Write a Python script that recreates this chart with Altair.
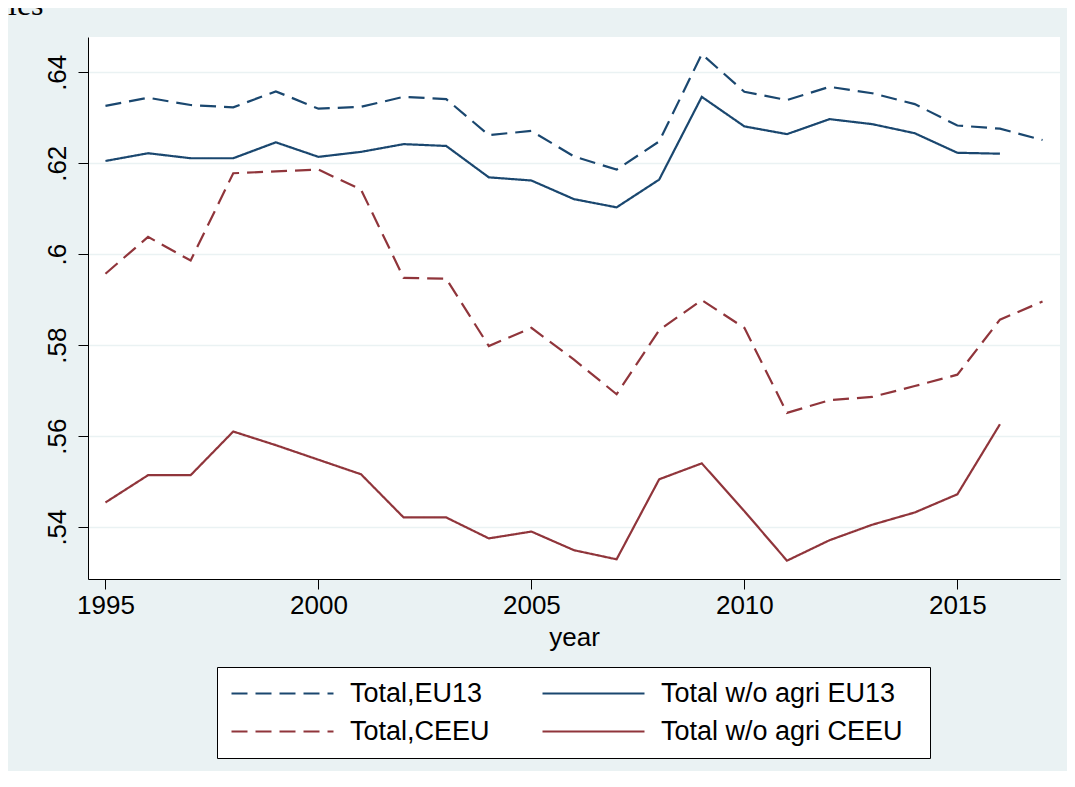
import altair as alt
import pandas as pd

years = list(range(1995, 2018))
total_eu13 = [0.6326, 0.6344, 0.6328, 0.6323, 0.6358, 0.6320, 0.6324, 0.6346, 0.6341, 0.6262,
              0.6271, 0.6215, 0.6186, 0.6248, 0.6440, 0.6357, 0.6339, 0.6368, 0.6354, 0.6330,
              0.6283, 0.6276, 0.6251]
woagri_eu13 = [0.6205, 0.6222, 0.6211, 0.6211, 0.6246, 0.6214, 0.6225, 0.6242, 0.6238, 0.6169,
               0.6162, 0.6121, 0.6103, 0.6164, 0.6346, 0.6281, 0.6264, 0.6297, 0.6286, 0.6266,
               0.6223, 0.6221, None]
total_ceeu = [0.5957, 0.6038, 0.5986, 0.6178, 0.6182, 0.6186, 0.6142, 0.5948, 0.5946, 0.5798,
              0.5838, 0.5768, 0.5692, 0.5833, 0.5899, 0.5838, 0.5651, 0.5679, 0.5686, 0.5710,
              0.5735, 0.5856, 0.5896]
woagri_ceeu = [0.5454, 0.5514, 0.5514, 0.5610, 0.5580, 0.5548, 0.5516, 0.5421, 0.5421, 0.5375,
               0.5390, 0.5349, 0.5329, 0.5505, 0.5540, 0.5435, 0.5326, 0.5371, 0.5405, 0.5432,
               0.5472, 0.5626, None]

series_names = ["Total,EU13", "Total w/o agri EU13", "Total,CEEU", "Total w/o agri CEEU"]
series_values = [total_eu13, woagri_eu13, total_ceeu, woagri_ceeu]
series_colors = ["#1a476f", "#1a476f", "#90353b", "#90353b"]
series_dashes = [[16, 8], [1, 0], [16, 8], [1, 0]]

x_ticks = [1995, 2000, 2005, 2010, 2015]
y_ticks = [0.54, 0.56, 0.58, 0.60, 0.62, 0.64]
x_title = "year"
corner_text = ["ies"]

rows = []
for name, vals in zip(series_names, series_values):
    for yr, v in zip(years, vals):
        if v is not None:
            rows.append({"year": yr, "value": v, "series": name})
df = pd.DataFrame(rows)

FONT = "Liberation Sans"
BG = "#EAF2F3"

legend = alt.Legend(
    title="\u00a0", titleOrient="right", titlePadding=14, titleFontSize=1,
    orient="none", legendX=129, legendY=630, columns=2, direction="horizontal",
    symbolType="stroke", symbolSize=10404, symbolStrokeWidth=2.2, clipHeight=27,
    labelFont=FONT, labelFontSize=27, labelColor="black", labelLimit=500,
    labelOffset=15, columnPadding=51, rowPadding=10, padding=13,
    strokeColor="black", fillColor="white",
)

lines = alt.Chart(df).mark_line(strokeWidth=2.2).encode(
    x=alt.X("year:Q",
            scale=alt.Scale(domain=[1994.59, 2017.41], nice=False, zero=False),
            axis=alt.Axis(values=x_ticks, format="d", title=x_title, grid=False,
                          labelFont=FONT, labelFontSize=26, labelColor="black", labelPadding=3,
                          titleFont=FONT, titleFontSize=26, titleColor="black",
                          titleFontWeight="normal", titlePadding=6,
                          tickSize=10, tickColor="black", domainColor="black")),
    y=alt.Y("value:Q",
            scale=alt.Scale(domain=[0.52857, 0.64776], nice=False, zero=False),
            axis=alt.Axis(values=y_ticks, title=None, grid=True, gridColor=BG, gridWidth=1.5,
                          labelExpr="slice(format(datum.value, '.2~f'), 1)",
                          labelAngle=270, labelAlign="center", labelBaseline="alphabetic",
                          labelFont=FONT, labelFontSize=26, labelColor="black", labelPadding=13,
                          tickSize=10, tickColor="black", domainColor="black")),
    color=alt.Color("series:N", scale=alt.Scale(domain=series_names, range=series_colors),
                    legend=legend),
    strokeDash=alt.StrokeDash("series:N", scale=alt.Scale(domain=series_names, range=series_dashes),
                              legend=legend),
)

corner = alt.Chart(alt.Data(values=[{"t": corner_text[0]}])).mark_text(
    align="left", baseline="alphabetic", font="Liberation Serif", fontSize=32, color="black"
).encode(text="t:N", x=alt.value(-80), y=alt.value(-22))

chart = alt.layer(lines, corner).properties(
    width=972, height=542,
    autosize=alt.AutoSizeParams(type="none"),
    padding={"left": 80, "top": 29, "right": 7, "bottom": 192},
    background=BG,
).configure_view(fill="white", strokeWidth=0)

chart.save("out.html", embed_options={"renderer": "svg", "actions": False})
